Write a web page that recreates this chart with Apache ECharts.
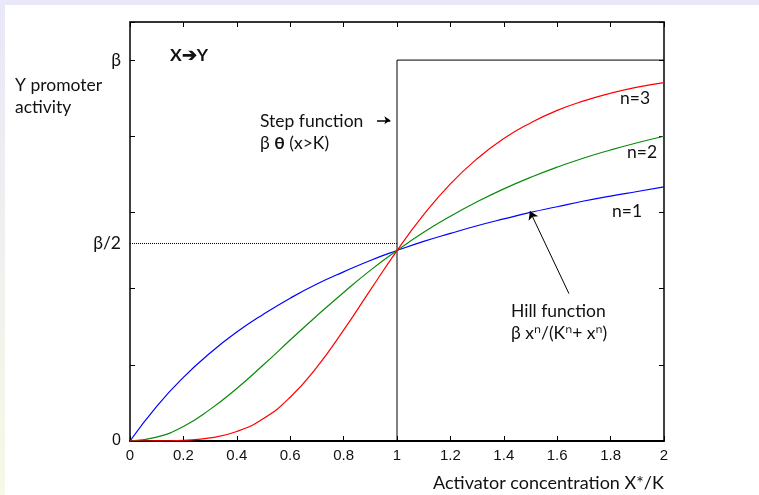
<!DOCTYPE html>
<html><head><meta charset="utf-8">
<script src="https://cdn.jsdelivr.net/npm/echarts@6/dist/echarts.min.js"></script>
<style>html,body{margin:0;padding:0;background:#fff}#c{width:759px;height:495px}</style>
</head><body><div id="c"></div>
<script>
// Activator concentration X*/K
var xValues = [0,0.1,0.2,0.3,0.4,0.5,0.6,0.7,0.8,0.9,1,1.1,1.2,1.3,1.4,1.5,1.6,1.7,1.8,1.9,2];
// Y promoter activity (fraction of beta)
var hillN1 = [0,0.091,0.167,0.231,0.286,0.333,0.375,0.412,0.444,0.474,0.5,0.524,0.545,0.565,0.583,0.6,0.615,0.630,0.643,0.655,0.667];
var hillN2 = [0,0.010,0.038,0.083,0.138,0.200,0.265,0.329,0.390,0.448,0.5,0.548,0.590,0.628,0.662,0.692,0.719,0.743,0.764,0.783,0.800];
var hillN3 = [0,0.0001,0.002,0.008,0.025,0.059,0.115,0.194,0.291,0.396,0.5,0.594,0.675,0.741,0.794,0.835,0.868,0.893,0.913,0.929,0.941];
var stepX = [0,1,1,2];
var stepY = [0,0,1,1];
var xTickLabels = ['0','0.2','0.4','0.6','0.8','1','1.2','1.4','1.6','1.8','2'];
var halfLevel = 0.518;

function pairs(xs, ys){ return xs.map(function(x,i){ return [x, ys[i]]; }); }

var chart = echarts.init(document.getElementById('c'), null, {renderer:'canvas'});
var TXT = 'Lato, "Noto Sans", sans-serif';
var ARIAL = '"Liberation Sans", Arial, sans-serif';
var FS = 17.5;
function axisCommon(extra){
  return Object.assign({
    type:'value', min:0, interval:0.2,
    axisLine:{show:true, onZero:false, lineStyle:{color:'#000', width:1.5}},
    axisTick:{show:true, inside:true, length:5, lineStyle:{color:'#000', width:1}},
    splitLine:{show:false}
  }, extra);
}
chart.setOption({
  animation:false,
  backgroundColor:'#fff',
  grid:{left:130, right:95, top:22, bottom:54, containLabel:false},
  xAxis:[
    axisCommon({max:2, position:'bottom',
      axisLine:{show:true, onZero:false, lineStyle:{color:'#000', width:2}},
      axisLabel:{show:true, margin:7, color:'#111', fontFamily:ARIAL, fontSize:15,
        formatter:function(v){ var i=Math.round(v/0.2); return xTickLabels[i]!==undefined && Math.abs(v-i*0.2)<1e-6 ? xTickLabels[i] : ''; }}}),
    axisCommon({max:2, position:'top',
      axisLine:{show:true, onZero:false, lineStyle:{color:'#333', width:2}},
      axisLabel:{show:false}})
  ],
  yAxis:[
    axisCommon({max:1.1, position:'left',
      axisLabel:{show:true, margin:9, color:'#111',
        rich:{d:{fontFamily:ARIAL, fontSize:16, color:'#111'}, b:{fontFamily:TXT, fontSize:FS, color:'#111'}},
        formatter:function(v){ if(v===0) return '{d|0}'; if(Math.abs(v-1)<1e-6) return '{b|β}'; return ''; }}}),
    axisCommon({max:1.1, position:'right', axisLabel:{show:false}})
  ],
  series:[
    {type:'line', name:'step', data:pairs(stepX, stepY), symbol:'none', lineStyle:{color:'#000', width:1}, z:3,
      markLine:{silent:true, symbol:['none','none'], animation:false,
        lineStyle:{color:'#000', type:'dotted', width:1},
        label:{show:true, position:'start', formatter:'β/2', color:'#111', fontFamily:TXT, fontSize:FS, distance:9},
        data:[[{coord:[0, halfLevel]}, {coord:[1, halfLevel]}]]}},
    {type:'line', name:'n=1', data:pairs(xValues, hillN1), smooth:true, symbol:'none', lineStyle:{color:'#0000ff', width:1.2}, z:4,
      markLine:{silent:true, symbol:['none','arrow'], symbolSize:8, animation:false,
        lineStyle:{color:'#000', type:'solid', width:1}, label:{show:false},
        data:[[{coord:[1.644,0.387]},{coord:[1.498,0.603]}]]}},
    {type:'line', name:'n=2', data:pairs(xValues, hillN2), smooth:true, symbol:'none', lineStyle:{color:'#0a8a0a', width:1.2}, z:4},
    {type:'line', name:'n=3', data:pairs(xValues, hillN3), smooth:true, symbol:'none', lineStyle:{color:'#ff0000', width:1.2}, z:4,
      markLine:{silent:true, symbol:['none','arrow'], symbolSize:6, animation:false,
        lineStyle:{color:'#000', type:'solid', width:1.5}, label:{show:false},
        data:[[{coord:[0.925,0.842]},{coord:[0.975,0.842]}]]}}
  ],
  graphic:[
    {type:'rect', left:0, top:0, shape:{width:759, height:5}, style:{fill:'#e8e8f8'}, silent:true, z:-10},
    {type:'rect', left:0, top:0, shape:{width:5, height:495},
      style:{fill:new echarts.graphic.LinearGradient(0,0,0,1,[{offset:0,color:'#e8e8f8'},{offset:1,color:'#f8f8e6'}])}, silent:true, z:-10},
    {type:'text', left:15, top:74, style:{text:'Y promoter\nactivity', font:FS+'px '+TXT, fill:'#111', lineHeight:22}},
    {type:'text', left:170, top:44, style:{text:'X➔Y', font:'bold '+FS+'px '+TXT, fill:'#111', lineHeight:22}},
    {type:'text', left:260, top:110, style:{
      text:'{a|Step function}\n{a|β }{b|θ}{a| (x>K)}', fill:'#111', lineHeight:22,
      rich:{a:{font:FS+'px '+TXT, fill:'#111', lineHeight:22}, b:{font:'bold '+FS+'px '+TXT, fill:'#111', lineHeight:22}}}},
    {type:'text', left:620, top:87, style:{text:'n=3', font:FS+'px '+TXT, fill:'#111', lineHeight:22}},
    {type:'text', left:627, top:141, style:{text:'n=2', font:FS+'px '+TXT, fill:'#111', lineHeight:22}},
    {type:'text', left:612, top:200, style:{text:'n=1', font:FS+'px '+TXT, fill:'#111', lineHeight:22}},
    {type:'text', left:511, top:300, style:{
      text:'{a|Hill function}\n{a|β x}{s|ⁿ}{a|/(K}{s|ⁿ}{a|+ x}{s|ⁿ}{a|)}', fill:'#111', lineHeight:22,
      rich:{a:{font:FS+'px '+TXT, fill:'#111', lineHeight:22}, s:{font:FS+'px "Noto Sans", "DejaVu Sans", sans-serif', fill:'#111', lineHeight:22}}}},
    {type:'text', left:433, top:472, style:{text:'Activator concentration X*/K', font:'18px '+TXT, fill:'#111', lineHeight:22}}
  ]
});
</script></body></html>
